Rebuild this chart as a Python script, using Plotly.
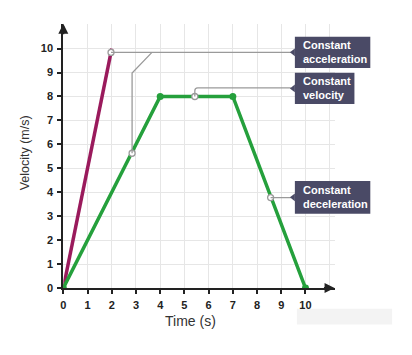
import plotly.graph_objects as go

# ---- data ----
time_green = [0, 4, 7, 10]
vel_green = [0, 8, 8, 0]
time_purple = [0, 2]
vel_purple = [0, 10]
tick_vals = [0, 1, 2, 3, 4, 5, 6, 7, 8, 9, 10]
tick_text = [str(v) for v in tick_vals]
# annotation anchor points on the lines
ann_time = [1.97, 2.84, 5.43, 8.56]
ann_vel = [9.84, 5.63, 8.0, 3.78]
labels = ["Constant<br>acceleration", "Constant<br>velocity", "Constant<br>deceleration"]

OFF = 8  # default page body margin
W, H = 412 - OFF, 355 - OFF
def px(x):
    return (x - OFF) / W
def py(y):
    return 1 - (y - OFF) / H

X0, Y0 = 60.7, 293.0
SX, SY = 24.4, 24.37
XMAX = (334 - X0) / SX
YMAX = (Y0 - 24) / SY

GREEN = "#25a03c"
PURPLE = "#9a1a5c"
NAVY = "#4a4a66"
GRAY = "#9a9a9a"

fig = go.Figure()
fig.add_trace(go.Scatter(x=time_purple, y=vel_purple, mode="lines",
                         line=dict(color=PURPLE, width=3.5), hoverinfo="skip"))
fig.add_trace(go.Scatter(x=time_green, y=vel_green, mode="lines+markers",
                         line=dict(color=GREEN, width=3.5),
                         marker=dict(color=GREEN, size=7), hoverinfo="skip"))

# connector lines
xe = (290 - X0) / SX
yv = (Y0 - 89.3) / SY
conn = dict(color=GRAY, width=1.3)
fig.add_shape(type="line", x0=ann_time[0], y0=ann_vel[0], x1=xe, y1=ann_vel[0], line=conn)
fig.add_shape(type="path",
              path=f"M {ann_time[1]},{ann_vel[1]} L {ann_time[1]},8.98 L 3.66,{ann_vel[0]}",
              line=conn)
fig.add_shape(type="path",
              path=f"M {ann_time[2]},{ann_vel[2]} L {ann_time[2]},{yv-0.12} Q {ann_time[2]},{yv} {ann_time[2]+0.12},{yv} L {xe},{yv}",
              line=conn)
fig.add_shape(type="line", x0=ann_time[3], y0=ann_vel[3], x1=xe, y1=ann_vel[3], line=conn)

fig.add_trace(go.Scatter(x=ann_time, y=ann_vel, mode="markers",
                         marker=dict(color="white", size=6, line=dict(color=GRAY, width=1.3)),
                         hoverinfo="skip"))

# label boxes
boxes = [(294, 370, 37.3, 69), (294, 354, 74, 105.7), (294, 370, 184, 217.3)]
for (l, r, t, b), txt in zip(boxes, labels):
    fig.add_shape(type="rect", xref="paper", yref="paper",
                  x0=px(l), x1=px(r), y0=py(b), y1=py(t),
                  fillcolor=NAVY, line=dict(width=0), layer="above")
    m = (t + b) / 2
    fig.add_shape(type="path", xref="paper", yref="paper",
                  path=f"M {px(l)},{py(m-4)} L {px(l-5)},{py(m)} L {px(l)},{py(m+4)} Z",
                  fillcolor=NAVY, line=dict(width=0), layer="above")
    fig.add_annotation(xref="paper", yref="paper", x=px(l + 6), y=py(m),
                       xanchor="left", yanchor="middle", align="left",
                       text=f"<b>{txt}</b>", showarrow=False,
                       font=dict(family="Liberation Sans", size=11, color="white"))

# axis arrows
fig.add_annotation(x=0, y=YMAX, ax=0, ay=YMAX - 0.5, xref="x", yref="y", axref="x", ayref="y",
                   showarrow=True, arrowhead=2, arrowsize=1, arrowwidth=2, arrowcolor="#222", text="")
fig.add_annotation(x=XMAX, y=0, ax=XMAX - 0.5, ay=0, xref="x", yref="y", axref="x", ayref="y",
                   showarrow=True, arrowhead=2, arrowsize=1, arrowwidth=2, arrowcolor="#222", text="")

# axis titles
fig.add_annotation(xref="paper", yref="paper", x=px(23), y=py(155), text="Velocity (m/s)",
                   xanchor="center", yanchor="middle",
                   textangle=-90, showarrow=False,
                   font=dict(family="Liberation Sans", size=12.5, color="#333"))
fig.add_annotation(xref="paper", yref="paper", x=px(189), y=py(327), text="Time (s)",
                   xanchor="center", yanchor="middle",
                   showarrow=False, font=dict(family="Liberation Sans", size=14, color="#333"))

# faint smear bottom-right
fig.add_shape(type="rect", xref="paper", yref="paper", x0=px(296), x1=px(392), y0=py(330), y1=py(314),
              fillcolor="#f3f3f3", line=dict(width=0), layer="below")

axis_common = dict(showline=True, linecolor="#222", linewidth=2, ticks="outside", ticklen=4,
                   tickwidth=2, tickcolor="#222", tickvals=tick_vals, ticktext=tick_text,
                   showgrid=True, gridcolor="#e6e6e6", gridwidth=1, zeroline=False,
                   tickfont=dict(family="Liberation Sans", size=11, color="#222", weight="bold"),
                   minor=dict(tickvals=[11], showgrid=True, gridcolor="#e6e6e6", ticks=""),
                   fixedrange=True)
fig.update_layout(
    width=W, height=H, margin=dict(l=0, r=0, t=0, b=0),
    paper_bgcolor="white", plot_bgcolor="white", showlegend=False,
    xaxis=dict(domain=[px(X0), px(334)], range=[0, XMAX], ticklabelstandoff=2, **axis_common),
    yaxis=dict(domain=[py(Y0), py(24)], range=[0, YMAX], ticklabelstandoff=2, **axis_common),
)
fig.write_html("out.html")
